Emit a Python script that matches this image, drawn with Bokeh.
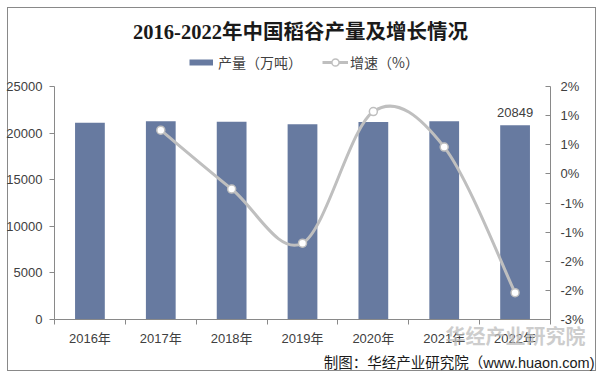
from bokeh.plotting import figure
from bokeh.layouts import column
from bokeh.models import (Range1d, LinearAxis, FixedTicker, Legend, LegendItem,
                          Label, Title, ColumnDataSource)
from bokeh.core.properties import value
from bokeh.embed import file_html
from bokeh.resources import INLINE

# ---------------- data ----------------
years = ["2016年", "2017年", "2018年", "2019年", "2020年", "2021年", "2022年"]
production = [21109, 21268, 21213, 20961, 21186, 21284, 20849]      # 万吨
growth = [None, 0.75, -0.26, -1.19, 1.07, 0.46, -2.04]              # %
left_ticks = [0, 5000, 10000, 15000, 20000, 25000]
right_ticks = [-2.5, -2, -1.5, -1, -0.5, 0, 0.5, 1, 1.5]
right_labels = ["-3%", "-2%", "-2%", "-1%", "-1%", "0%", "1%", "1%", "2%"]
title_text = "2016-2022年中国稻谷产量及增长情况"
legend_bar = "产量（万吨）"
legend_line = "增速（%）"
source_text = "制图：华经产业研究院（www.huaon.com)"
wm_text = "华经产业研究院"

# ---------------- styles ----------------
BAR = "#677AA0"
LINE = "#BFBFBF"
AXIS = "#898989"
TXT = "#404040"
SANS = "Liberation Sans, Noto Sans CJK SC"
CJK = "Noto Sans CJK SC"
W = 596
NAN = float("nan")


def bare(h):
    f = figure(width=W, height=h, x_range=Range1d(0, 1), y_range=Range1d(0, 1),
               output_backend="svg", toolbar_location=None,
               x_axis_location=None, y_axis_location=None,
               min_border=0, min_border_left=0, min_border_right=0,
               min_border_top=0, min_border_bottom=0)
    f.outline_line_color = None
    f.grid.visible = False
    f.background_fill_color = None
    f.border_fill_color = None
    return f


# ---------------- top: title + legend (frame starts at x=54) ----------------
top = bare(76)
top.add_layout(Label(x=246, y=45, x_units="screen", y_units="screen", text=title_text,
                     text_align="center", text_baseline="middle",
                     text_font="Liberation Serif, Noto Sans CJK SC", text_font_style="bold",
                     text_font_size="20.5px", text_color="#1a1a1a"))
bar_proxy = top.line(x=[NAN], y=[NAN], line_color=BAR, line_width=6)
line_proxy = top.line(x=[NAN], y=[NAN], line_color=LINE, line_width=3)
mark_proxy = top.scatter(x=[NAN], y=[NAN], size=8, fill_color="white", line_color=LINE, line_width=1.5)
common = dict(orientation="horizontal", glyph_height=18, label_height=18,
              padding=0, margin=0, spacing=0, border_line_color=None,
              background_fill_alpha=0, label_text_font=CJK,
              label_text_font_size="14px", label_text_color=TXT)
top.add_layout(Legend(items=[LegendItem(label=legend_bar, renderers=[bar_proxy])],
                      location=(135, 4), glyph_width=24, label_standoff=5, **common), "center")
top.add_layout(Legend(items=[LegendItem(label=legend_line, renderers=[line_proxy, mark_proxy])],
                      location=(268, 4), glyph_width=26, label_standoff=2, **common), "center")

# ---------------- main chart ----------------
n = len(years)
centers = [i + 0.5 for i in range(n)]
bounds = [i for i in range(n + 1)]

p = figure(width=W, height=295, x_range=Range1d(0, n),
           y_range=Range1d(left_ticks[0], left_ticks[-1]),
           output_backend="svg", toolbar_location=None,
           min_border_left=54, min_border_right=46, min_border_top=10, min_border_bottom=52)
p.outline_line_color = None
p.xgrid.visible = False
p.ygrid.visible = False
p.background_fill_color = None
p.border_fill_color = None
p.extra_y_ranges = {"right": Range1d(right_ticks[0], right_ticks[-1])}

src = ColumnDataSource(dict(x=centers, top=production))
p.vbar(x="x", top="top", width=0.42, source=src, fill_color=BAR, line_color=None)

p.text(x=[centers[-1]], y=[production[-1]], text=[str(production[-1])],
       text_align="center", text_baseline="middle", y_offset=-13,
       text_font=value("Liberation Sans"), text_font_size="13px", text_color=TXT)

pts = [(centers[i], g) for i, g in enumerate(growth) if g is not None]
m = len(pts)
x0s, y0s, x1s, y1s, cx0, cy0, cx1, cy1 = ([] for _ in range(8))
for k in range(m - 1):
    pa = pts[max(k - 1, 0)]
    pb = pts[k]
    pc = pts[k + 1]
    pd = pts[min(k + 2, m - 1)]
    x0s.append(pb[0]); y0s.append(pb[1])
    x1s.append(pc[0]); y1s.append(pc[1])
    cx0.append(pb[0] + (pc[0] - pa[0]) / 6); cy0.append(pb[1] + (pc[1] - pa[1]) / 6)
    cx1.append(pc[0] - (pd[0] - pb[0]) / 6); cy1.append(pc[1] - (pd[1] - pb[1]) / 6)
p.bezier(x0=x0s, y0=y0s, x1=x1s, y1=y1s, cx0=cx0, cy0=cy0, cx1=cx1, cy1=cy1,
         line_color=LINE, line_width=3, y_range_name="right")
pts_src = ColumnDataSource(dict(x=[q[0] for q in pts], y=[q[1] for q in pts]))
p.scatter(x="x", y="y", source=pts_src, size=8, fill_color="white",
          line_color=LINE, line_width=1.5, y_range_name="right")

xa = p.xaxis[0]
xa.ticker = FixedTicker(ticks=centers, minor_ticks=bounds)
xa.major_label_overrides = {c: y for c, y in zip(centers, years)}
xa.major_tick_out = 0
xa.major_tick_in = 0
xa.minor_tick_out = 5
xa.minor_tick_in = 0
xa.minor_tick_line_color = AXIS
xa.axis_line_color = AXIS
xa.major_label_standoff = 6
xa.major_label_text_font = SANS
xa.major_label_text_font_size = "13px"
xa.major_label_text_color = TXT

ya = p.yaxis[0]
ya.ticker = FixedTicker(ticks=left_ticks)
ya.axis_line_color = AXIS
ya.major_tick_line_color = AXIS
ya.major_tick_out = 5
ya.major_tick_in = 0
ya.minor_tick_line_color = None
ya.major_label_standoff = 7
ya.major_label_text_font = SANS
ya.major_label_text_font_size = "13px"
ya.major_label_text_color = TXT

ra = LinearAxis(y_range_name="right", ticker=FixedTicker(ticks=right_ticks),
                major_label_overrides={t: s for t, s in zip(right_ticks, right_labels)})
ra.axis_line_color = AXIS
ra.major_tick_line_color = AXIS
ra.major_tick_out = 0
ra.major_tick_in = 5
ra.minor_tick_line_color = None
ra.major_label_standoff = 10
ra.major_label_text_font = SANS
ra.major_label_text_font_size = "13px"
ra.major_label_text_color = TXT
p.add_layout(ra, "right")

# ---------------- bottom overlay: watermark + source ----------------
bot = bare(71)
bot.margin = (-71, 0, 0, 0)
bot.add_layout(Title(text=wm_text, align="right", offset=-35, vertical_align="middle", standoff=5,
                     text_font=CJK, text_font_style="bold", text_font_size="20px",
                     text_color="#BDBDBD", text_alpha=0.75), "below")
bot.add_layout(Title(text=source_text, align="right", offset=-44, vertical_align="middle", standoff=0,
                     text_font=SANS, text_font_style="normal", text_font_size="14.5px",
                     text_color="#1a1a1a"), "below")

layout = column(top, p, bot, spacing=0,
                styles={"background-color": "white",
                        "box-shadow": "inset 7px 7px 0 0 white, inset 8px 8px 0 0 #898989, "
                                      "inset -1px -1px 0 0 #898989"})

open("out.html", "w").write(file_html(layout, INLINE))
